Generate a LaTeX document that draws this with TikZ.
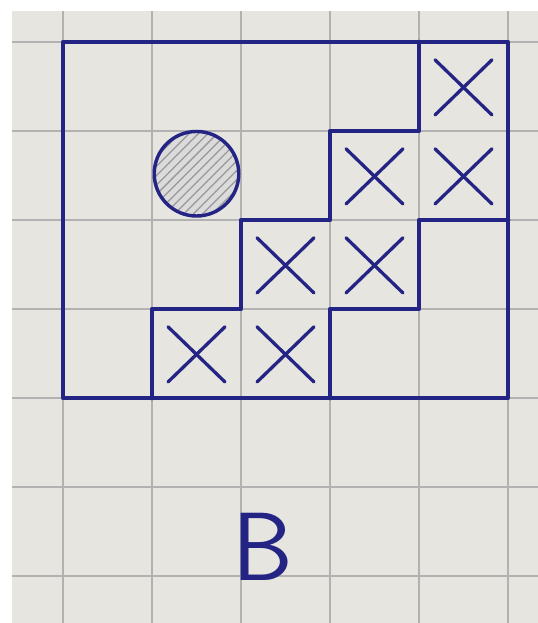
\documentclass[tikz,border=0pt]{standalone}
\usepackage{xcolor}
\usetikzlibrary{patterns}
\definecolor{ink}{RGB}{36,36,132}
\definecolor{paper}{RGB}{231,229,224}

\begin{document}
\begin{tikzpicture}[
  gridline/.style={draw=black!30, line width=0.6pt},
  pen/.style={draw=ink, line width=1.5pt, line join=round, line cap=round},
  cross/.style={draw=ink, line width=1.05pt, line cap=round},
  token/.style={circle, draw=ink, line width=1.1pt, minimum size=0.95cm, inner sep=0pt,
                preaction={fill=black!14}, pattern=north east lines, pattern color=black!40},
  tag/.style={text=ink, font=\sffamily\fontsize{31}{31}\selectfont, inner sep=0pt}
]
\useasboundingbox (-0.708,-2.528) rectangle (5.337,4.472);
\fill[white] (-0.708,-2.528) rectangle (5.337,4.472);
\fill[paper] (-0.573,-2.528) rectangle (5.337,4.348);
% squared paper
\foreach \x in {0,...,5} \draw[gridline] (\x,-2.528) -- (\x,4.348);
\foreach \y in {-2,...,4} \draw[gridline] (-0.573,\y) -- (5.337,\y);
% board
\draw[pen] (0,0) rectangle (5,4);
\draw[pen] (4,4) -- (4,3) -- (3,3) -- (3,2) -- (2,2) -- (2,1) -- (1,1) -- (1,0);
\draw[pen] (5,2) -- (4,2) -- (4,1) -- (3,1) -- (3,0);
% crossed cells
\foreach \cx/\cy in {4/3,3/2,4/2,2/1,3/1,1/0,2/0}
  \draw[cross] (\cx+0.18,\cy+0.8) -- (\cx+0.82,\cy+0.18)
               (\cx+0.18,\cy+0.18) -- (\cx+0.82,\cy+0.8);
% hatched disc
\node[token] (disc) at (1.5,2.52) {};
\node[tag] (lbl) at (2.25,-1.67) {B};
\end{tikzpicture}
\end{document}
